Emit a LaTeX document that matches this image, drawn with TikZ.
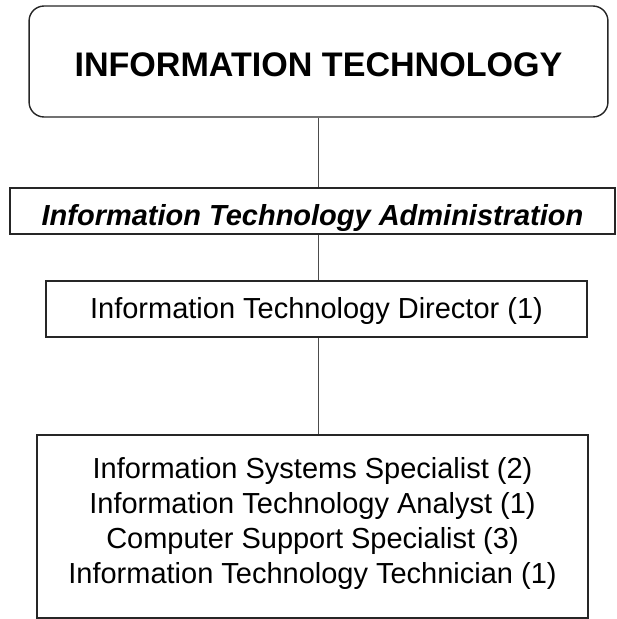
\documentclass[tikz,border=0pt]{standalone}
\usepackage{fontspec}
\setmainfont{Liberation Sans}
\usetikzlibrary{positioning}
\tikzset{
  unit/.style={draw=black!85, line width=0.8pt, fill=white, align=center, inner sep=0pt},
  dept/.style={unit, rounded corners=0.3cm, text height=0.62cm, text depth=0pt,
               font=\bfseries\fontsize{19.4}{22}\selectfont},
  admin/.style={unit, text height=0.6cm, text depth=0.04cm,
                font=\bfseries\itshape\fontsize{16.5}{19}\selectfont},
  post/.style={unit, text height=0.5cm, text depth=0.14cm, font=\fontsize{16.5}{19.85}\selectfont},
  roster/.style={align=center, inner sep=0pt, font=\fontsize{16.5}{19.85}\selectfont},
  link/.style={draw=black!70, line width=0.6pt},
}
\begin{document}
\begin{tikzpicture}[x=0.02cm,y=-0.02cm]
  \useasboundingbox (0,0) rectangle (617,619);
  \node[dept,minimum width=11.58cm,minimum height=2.22cm] (it) at (318.5,61.5) {INFORMATION TECHNOLOGY};
  \node[admin,minimum width=12.1cm,minimum height=0.92cm] (adm) at (312.5,211) {Information Technology Administration};
  \node[post,minimum width=10.82cm,minimum height=1.12cm] (dir) at (316.5,309) {Information Technology Director (1)};
  \node[unit,minimum width=11.02cm,minimum height=3.66cm] (staff) at (312.5,526.5) {};
  \node[roster,below=0.46cm of staff.north] (roles) {Information Systems Specialist (2)\\
    Information Technology Analyst (1)\\
    Computer Support Specialist (3)\\
    Information Technology Technician (1)};
  \draw[link] (it.south) -- (it.south |- adm.north);
  \draw[link] (it.south |- adm.south) -- (it.south |- dir.north);
  \draw[link] (it.south |- dir.south) -- (it.south |- staff.north);
\end{tikzpicture}
\end{document}
